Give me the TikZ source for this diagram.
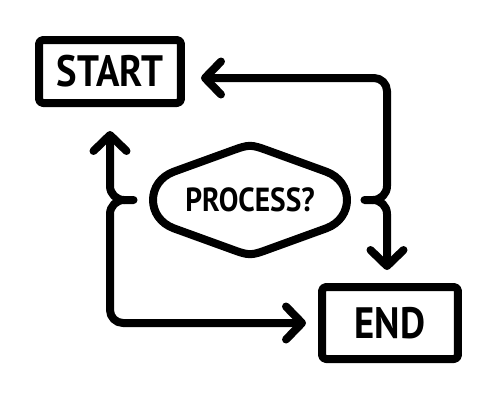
\documentclass[tikz,border=0pt]{standalone}
\usepackage{fontspec}
\newfontfamily\chartfont{PT Sans}[FakeStretch=0.88]
\usetikzlibrary{arrows.meta, positioning}
\tikzset{
    flowtip/.style={-{Straight Barb[length=0.32cm, width=0.66cm, round]}},
    terminal/.style={rectangle, draw, rounded corners=0.08cm, inner sep=0pt,
        font=\chartfont\bfseries\fontsize{25}{25}\selectfont},
    decision/.style={rectangle, inner sep=0pt, outer sep=0pt,
        minimum width=3.9cm, minimum height=2.1cm,
        font=\chartfont\bfseries\fontsize{19}{19}\selectfont}}

\begin{document}
\begin{tikzpicture}[x=0.02cm, y=-0.02cm, line width=0.16cm, line cap=round, line join=round]
\useasboundingbox (0,0) rectangle (500,407);

\node[terminal] (startbox) at (110,71.5) [minimum width=2.84cm, minimum height=1.26cm] {START};
\node[terminal] (endbox)   at (390,323)  [minimum width=2.72cm, minimum height=1.44cm] {END};
\node[decision] (question) at (250,200)  {PROCESS?};

% hexagon round the question
\draw[shift={(question.center)}]
    (-76,-28.4) -- (-20,-48.7) .. controls (0,-56) .. (20,-48.7) -- (76,-28.4)
    .. controls (104,-18.2) and (104,18.2) .. (76,28.4)
    -- (20,48.7) .. controls (0,56) .. (-20,48.7) -- (-76,28.4)
    .. controls (-104,18.2) and (-104,-18.2) .. cycle;

\coordinate (ltip)    at ([xshift=-0.38cm]question.west);
\coordinate (rtip)    at ([xshift=0.34cm]question.east);
\coordinate (lfork)   at (124,200);
\coordinate (rfork)   at (373,200);
\coordinate (startin) at ([shift={(0.32cm,-0.13cm)}]startbox.east);
\coordinate (startup) at ([yshift=-0.48cm]startbox.south);
\coordinate (endin)   at ([xshift=-0.24cm]endbox.west);
\coordinate (enddown) at ([shift={(-0.06cm,0.26cm)}]endbox.north);

\draw[flowtip] (rtip) -- (rfork) to[out=0, in=-90] (387,186)
    [rounded corners=0.26cm] -- (387,78) -- (startin);
\draw[flowtip] (rfork) to[out=0, in=90] (387,214) -- (enddown);
\draw[flowtip] (ltip) -- (lfork) to[out=180, in=-90] (110,186) -- (startup);
\draw[flowtip] (lfork) to[out=180, in=90] (110,214)
    [rounded corners=0.26cm] -- (110,323) -- (endin);
\end{tikzpicture}
\end{document}
